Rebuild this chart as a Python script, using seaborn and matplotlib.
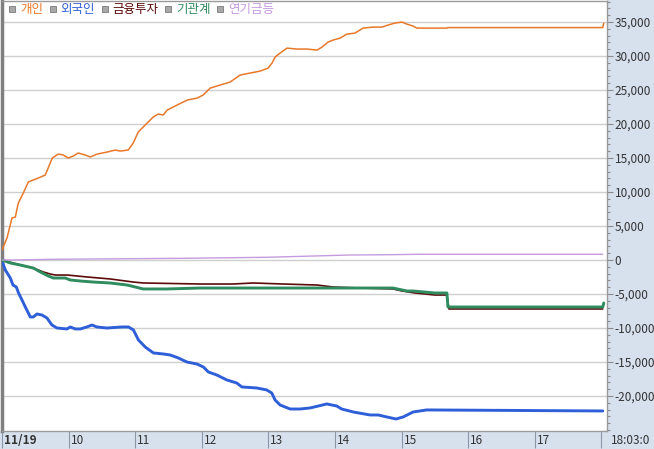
import numpy as np
import pandas as pd
import matplotlib
matplotlib.use("Agg")
import matplotlib.pyplot as plt
import matplotlib.transforms as mtrans
from matplotlib.lines import Line2D
from matplotlib.patches import Rectangle
from matplotlib.ticker import MultipleLocator, FuncFormatter
import seaborn as sns

# data (minutes after 09:00, net buying)
names = ['개인', '외국인', '금융투자', '기관계', '연기금등']
colors = ['#E8782A', '#2F5FD8', '#5C0A0A', '#2F8C5E', '#C49BDF']
widths = [1.1, 2.1, 1.2, 2.1, 1.0]

ind_t = [0, 4.5, 9, 12, 14.7, 19.2, 23.7, 28.2, 32.7, 39, 45.3, 50.7, 55.2, 59.7, 64.2, 68.7,
         75, 79.5, 85.8, 94.8, 102, 106.5, 113.7, 118.2, 122.7, 129, 136.2, 140.7, 145.2,
         148.8, 157.8, 166.8, 175.8, 181.2, 187.5, 196.5, 205.5, 214.5, 223.5, 232.5, 239.7,
         243.3, 246, 250.5, 256.8, 265.8, 274.8, 283.8, 288.3, 293.7, 298.2, 304.5, 310.8,
         318, 325.2, 334.2, 342.3, 347.7, 354, 360.3, 364.8, 370.2, 373.8, 400.8, 401.7,
         541.2, 542.1]
ind_v = [1470, 3235, 6176, 6320, 8380, 9850, 11470, 11760, 12050, 12500, 15000, 15580, 15440,
         15000, 15290, 15730, 15440, 15150, 15580, 15880, 16170, 16020, 16170, 17200, 18820,
         19850, 21020, 21460, 21320, 22050, 22790, 23520, 23810, 24260, 25280, 25730, 26170,
         27200, 27490, 27780, 28220, 28960, 29840, 30430, 31160, 31020, 31020, 30870, 31310,
         32050, 32340, 32630, 33220, 33370, 34100, 34250, 34250, 34550, 34840, 34990, 34690,
         34400, 34100, 34100, 34180, 34180, 34840]

for_t = [0, 3, 7.5, 9.9, 12.9, 14.9, 18, 21, 25.5, 28.2, 31.5, 36, 40.5, 45, 49.5, 58.5, 61.5,
         66, 70.5, 76.5, 81, 85.5, 94.5, 108, 114, 118.4, 122.9, 129, 136.4, 145.4, 151.5,
         158.9, 166.5, 175.5, 181.4, 185.9, 193.5, 202.5, 211.5, 216, 229.5, 238.5, 243, 246,
         250.5, 259.5, 268.5, 277.5, 285, 292.5, 301.5, 306, 316.4, 331.5, 338.9, 346.5,
         354.9, 361.4, 370.4, 382.5, 541.2]
for_v = [-150, -1470, -2650, -3680, -3970, -4850, -5880, -6910, -8380, -8380, -7940, -8090,
         -8530, -9560, -10000, -10140, -9850, -10140, -10140, -9850, -9560, -9850, -10000,
         -9850, -9850, -10290, -11760, -12790, -13670, -13820, -13970, -14410, -15000, -15290,
         -15730, -16470, -16910, -17640, -18090, -18670, -18820, -19110, -19560, -20590,
         -21320, -21910, -21910, -21760, -21470, -21170, -21470, -21910, -22350, -22790,
         -22790, -23080, -23380, -23080, -22350, -22050, -22200]

fin_t = [0, 16.5, 28.2, 37.2, 43.5, 48, 58.8, 76.8, 97.5, 118.2, 127.2, 178.5, 208.2, 226.2,
         253.2, 283.8, 298.2, 322.5, 352.2, 360.3, 372, 390, 400.8, 402.6, 541.2]
fin_v = [0, -740, -1180, -1760, -2060, -2210, -2210, -2500, -2790, -3240, -3380, -3530, -3530,
         -3380, -3530, -3680, -3970, -4120, -4260, -4560, -4850, -5150, -5150, -7200, -7200]

ins_t = [0, 7.5, 16.5, 28.2, 34.5, 41.7, 46.2, 57, 61.5, 70.5, 82.2, 97.5, 112.8, 120, 127.2,
         148.8, 178.5, 268.5, 328.8, 352.2, 364.8, 370.2, 390, 400.8, 401.7, 541.2, 542.1]
ins_v = [0, -440, -740, -1180, -1760, -2350, -2650, -2650, -2940, -3090, -3240, -3380, -3680,
         -3970, -4260, -4260, -4120, -4120, -4120, -4120, -4560, -4560, -4850, -4850, -6910,
         -6910, -6320]

pen_t = [0, 10, 43.5, 163, 238.8, 313.4, 350, 376, 541.2]
pen_v = [0, 0, 100, 250, 400, 735, 780, 840, 840]

hour_ticks = [0, 60, 120, 180, 240, 300, 360, 420, 480, 540]
hour_labels = ['11/19', '10', '11', '12', '13', '14', '15', '16', '17', '']
value_ticks = [-20000, -15000, -10000, -5000, 0, 5000, 10000, 15000, 20000, 25000, 30000, 35000]

series = [(ind_t, ind_v), (for_t, for_v), (fin_t, fin_v), (ins_t, ins_v), (pen_t, pen_v)]

sns.set_style('white')
plt.rcParams['font.family'] = ['Noto Sans CJK KR', 'DejaVu Sans']

W, H = 654, 449
fig = plt.figure(figsize=(W / 100, H / 100), dpi=100)
panel = '#D7E1EE'
fig.patches.append(Rectangle((607 / W, 0), 1, 1, transform=fig.transFigure,
                             facecolor=panel, edgecolor='none', zorder=-5))
fig.patches.append(Rectangle((0, 0), 1, 18 / H, transform=fig.transFigure,
                             facecolor=panel, edgecolor='none', zorder=-5))

ax = fig.add_axes([2 / W, 18 / H, 605 / W, 430 / H])
ax.set_facecolor('white')

order = [4, 0, 1, 3, 2]
for i in order:
    t, v = series[i]
    df = pd.DataFrame({'t': t, 'v': v})
    sns.lineplot(data=df, x='t', y='v', ax=ax, color=colors[i], linewidth=widths[i],
                 estimator=None, sort=False, zorder=3 + i)

ax.set_xlim(0, 545)
ax.set_ylim(-25147, 38088)
ax.set_xlabel('')
ax.set_ylabel('')

# y axis on the right
ax.yaxis.tick_right()
ax.set_yticks(value_ticks)
ax.yaxis.set_minor_locator(MultipleLocator(1000))
ax.yaxis.set_major_formatter(FuncFormatter(lambda v, p: f'{v:,.0f}'))
ax.tick_params(axis='y', which='major', right=True, length=4.5, width=0.8, color='#8A8A8A',
               pad=1, labelsize=8.5, labelcolor='#333333')
ax.tick_params(axis='y', which='minor', right=True, length=2, width=0.8, color='#8A8A8A')
ax.grid(axis='y', which='major', color='#CFCFCF', linewidth=1)
ax.grid(axis='x', visible=False)

# x axis
ax.set_xticks(hour_ticks)
ax.set_xticklabels(hour_labels)
ax.tick_params(axis='x', which='major', bottom=True, length=12.5, width=0.8, color='#8C97A6',
               direction='out', pad=-10.6, labelsize=8.5, labelcolor='#333333')
off = mtrans.ScaledTranslation(2 / 100, 0, fig.dpi_scale_trans)
for lab in ax.get_xticklabels():
    lab.set_horizontalalignment('left')
    lab.set_transform(lab.get_transform() + off)
ax.get_xticklabels()[0].set_fontweight('bold')

for s in ['top', 'right', 'bottom']:
    ax.spines[s].set_color('#9A9A9A')
    ax.spines[s].set_linewidth(1)
ax.spines['left'].set_color('#7F7F7F')
ax.spines['left'].set_linewidth(2.5)

# legend
handles = [Line2D([], [], marker='s', linestyle='none', markersize=4.5,
                  markerfacecolor='#A8A8A8', markeredgecolor='#7A7A7A', markeredgewidth=0.6)
           for _ in names]
ax.legend(handles, names, loc='upper left', bbox_to_anchor=(-0.002, 1.012), ncol=5,
          frameon=False, fontsize=9, labelcolor=colors, handlelength=0.6,
          handletextpad=0.35, columnspacing=0.45, borderaxespad=0.2)

fig.text(611 / W, 9 / H, '18:03:0', fontsize=8.5, color='#333333', va='center', ha='left')

fig.savefig('out.png', dpi=100)
